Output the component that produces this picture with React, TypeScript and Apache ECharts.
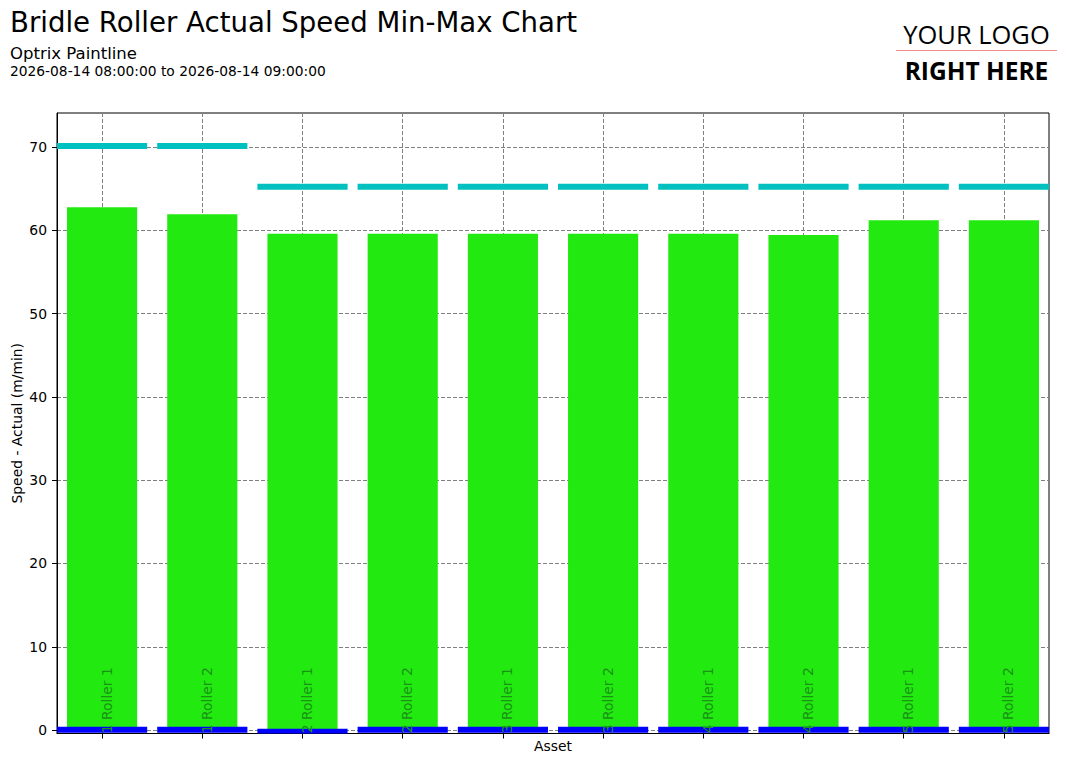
import React, { useEffect, useRef } from "react";
import * as echarts from "echarts";

const categories = [
  "Bridle 1 Roller 1",
  "Bridle 1 Roller 2",
  "Bridle 2 Roller 1",
  "Bridle 2 Roller 2",
  "Bridle 3 Roller 1",
  "Bridle 3 Roller 2",
  "Bridle 4 Roller 1",
  "Bridle 4 Roller 2",
  "Bridle 5 Roller 1",
  "Bridle 5 Roller 2",
];
const actualValues = [62.76, 61.92, 59.59, 59.59, 59.59, 59.59, 59.59, 59.44, 61.2, 61.2];
const maxValues = [70.12, 70.12, 65.22, 65.22, 65.22, 65.22, 65.22, 65.22, 65.22, 65.22];
const minValues = [0.05, 0.05, -0.2, 0.05, 0.05, 0.05, 0.05, 0.05, 0.05, 0.05];
const yTicks = [0, 10, 20, 30, 40, 50, 60, 70];
const xTicks = [0, 1, 2, 3, 4, 5, 6, 7, 8, 9];

const FONT = "DejaVu Sans";
const GREEN = "#22ea10";
const CYAN = "#00c0c0";
const BLUE = "#0000ff";
const LABEL_COLOR = "#1a9415";

export default function App() {
  const ref = useRef<HTMLDivElement>(null);

  useEffect(() => {
    if (!ref.current) return;
    const chart = echarts.init(ref.current, null, { renderer: "svg" });

    const barData = actualValues.map((v, i) => [i, v]);
    const maxData = maxValues.map((v, i) => [i, v]);
    const minData = minValues.map((v, i) => [i, v]);
    const labelData = categories.map((c, i) => [i, 7.55]);

    const markerRender = (color: string) => (params: any, api: any) => {
      const x = api.value(0);
      const v = api.value(1);
      const c = api.coord([x, v]);
      const w = api.size([0.9, 0])[0];
      return {
        type: "rect",
        shape: { x: c[0] - w / 2, y: c[1] - 3, width: w, height: 6 },
        style: { fill: color },
      };
    };

    chart.setOption({
      animation: false,
      backgroundColor: "#ffffff",
      textStyle: { fontFamily: FONT },
      grid: {
        left: 57,
        top: 113,
        right: 24,
        bottom: 30.5,
        show: true,
        borderColor: "#000000",
        borderWidth: 1,
        containLabel: false,
        outerBoundsMode: "none",
      },
      title: [
        {
          text: "Bridle Roller Actual Speed Min-Max Chart",
          left: 10,
          top: 8,
          textStyle: { fontFamily: FONT, fontSize: 27.6, fontWeight: "normal", color: "#000" },
          padding: 0,
        },
      ],
      graphic: [
        {
          type: "text",
          x: 10,
          y: 53.5,
          style: { text: "Optrix Paintline", font: `16.5px "${FONT}"`, fill: "#000", verticalAlign: "middle", align: "left" },
        },
        {
          type: "text",
          x: 10,
          y: 71,
          style: {
            text: "2026-08-14 08:00:00 to 2026-08-14 09:00:00",
            font: `13.8px "${FONT}"`,
            fill: "#000",
            verticalAlign: "middle",
            align: "left",
          },
        },
        {
          type: "text",
          x: 976.5,
          y: 33.5,
          scaleX: 0.98,
          style: { text: "YOUR LOGO", font: `26px "Open Sans"`, fill: "#000", verticalAlign: "middle", align: "center" },
        },
        {
          type: "line",
          shape: { x1: 896, y1: 50.5, x2: 1057, y2: 50.5 },
          style: { stroke: "#f08a8a", lineWidth: 1 },
        },
        {
          type: "text",
          x: 976.5,
          y: 70.5,
          scaleX: 0.98,
          style: { text: "RIGHT HERE", font: `bold 25px "Open Sans"`, fill: "#000", verticalAlign: "middle", align: "center" },
        },
      ],
      xAxis: {
        type: "value",
        min: -0.45,
        max: 9.45,
        name: "Asset",
        nameLocation: "middle",
        nameGap: 5,
        nameMoveOverlap: false,
        nameTextStyle: { fontFamily: FONT, fontSize: 13.9, color: "#000", verticalAlign: "top" },
        axisLine: { show: true, onZero: false, lineStyle: { color: "#000", width: 1 } },
        axisTick: { show: true, inside: false, length: 5, customValues: xTicks, lineStyle: { color: "#000" } },
        axisLabel: { show: false, customValues: xTicks },
        splitLine: { show: true, lineStyle: { color: "#808080", type: [4, 2], width: 1 } },
      },
      yAxis: {
        type: "value",
        min: -0.41,
        max: 74.08,
        name: "Speed - Actual (m/min)",
        nameLocation: "middle",
        nameRotate: 90,
        nameGap: 33,
        nameMoveOverlap: false,
        nameTextStyle: { fontFamily: FONT, fontSize: 13.9, color: "#000" },
        axisLine: { show: true, onZero: false, lineStyle: { color: "#000", width: 1 } },
        axisTick: { show: true, inside: false, length: 5, customValues: yTicks, lineStyle: { color: "#000" } },
        axisLabel: { show: true, customValues: yTicks, margin: 10, fontFamily: FONT, fontSize: 13.9, color: "#000" },
        splitLine: { show: true, lineStyle: { color: "#808080", type: [4, 2], width: 1 } },
      },
      series: [
        {
          type: "custom",
          name: "Actual",
          clip: true,
          data: barData,
          z: 2,
          renderItem: (params: any, api: any) => {
            const x = api.value(0);
            const v = api.value(1);
            const p0 = api.coord([x - 0.35, 0]);
            const p1 = api.coord([x + 0.35, v]);
            return {
              type: "rect",
              shape: { x: p0[0], y: p1[1], width: p1[0] - p0[0], height: p0[1] - p1[1] },
              style: { fill: GREEN },
            };
          },
        },
        {
          type: "custom",
          name: "Max",
          clip: true,
          data: maxData,
          z: 3,
          renderItem: markerRender(CYAN),
        },
        {
          type: "custom",
          name: "Min",
          clip: true,
          data: minData,
          z: 3,
          renderItem: markerRender(BLUE),
        },
        {
          type: "custom",
          name: "Labels",
          clip: true,
          data: labelData,
          z: 5,
          renderItem: (params: any, api: any) => {
            const i = params.dataIndex;
            const c = api.coord([api.value(0), api.value(1)]);
            return {
              type: "text",
              x: c[0] + 4.5,
              y: c[1],
              rotation: Math.PI / 2,
              style: {
                text: categories[i],
                font: `13.9px "${FONT}"`,
                fill: LABEL_COLOR,
                align: "right",
                verticalAlign: "middle",
              },
            };
          },
        },
      ],
    });

    return () => chart.dispose();
  }, []);

  return <div ref={ref} style={{ width: 1073, height: 764, position: "absolute", left: 0, top: 0 }} />;
}
